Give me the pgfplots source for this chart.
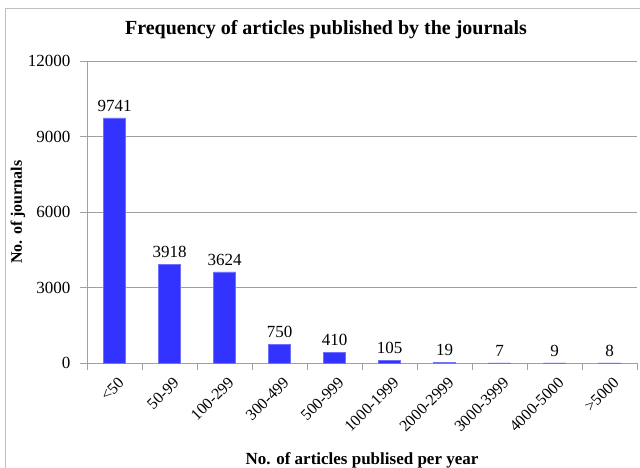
\documentclass[border=0pt]{standalone}
\usepackage{pgfplots}
\pgfplotsset{compat=1.18}
\usepackage{fontspec}
\setmainfont{Liberation Serif}
\definecolor{barblue}{HTML}{3333FF}
\definecolor{gridgray}{HTML}{A0A0A0}
\begin{document}
\begin{tikzpicture}
\useasboundingbox (0pt,0pt) rectangle (640pt,467pt);
\draw[gray!50, line width=0.8pt] (5pt,-20pt) rectangle (660pt,459pt);
\node[font=\bfseries\fontsize{20}{22}\selectfont] at (326pt,437pt) {Frequency of articles published by the journals};
\begin{axis}[
  at={(87pt,104pt)}, anchor=south west,
  scale only axis, width=550pt, height=302pt,
  ymin=0, ymax=12000, ytick={0,3000,6000,9000,12000},
  xmin=-0.5, xmax=9.5,
  xtick={0,...,9},
  xticklabels={<50,50-99,100-299,300-499,500-999,1000-1999,2000-2999,3000-3999,4000-5000,>5000},
  minor xtick={-0.5,0.5,...,9.5},
  major x tick style={draw=none},
  minor tick length=7pt,
  major tick length=7pt,
  tick align=outside,
  x tick style={gridgray},
  y tick style={gridgray},
  ymajorgrids, grid style={gridgray, line width=0.8pt},
  axis x line*=bottom, axis y line*=left,
  axis line style={gridgray, line width=0.8pt, -},
  scaled y ticks=false,
  /pgf/number format/assume math mode=true,
  /pgf/number format/1000 sep={},
  yticklabel style={font=\fontsize{17}{18}\selectfont, xshift=-6pt},
  xticklabel style={font=\fontsize{16}{17}\selectfont, rotate=45, anchor=north east, xshift=1pt, yshift=-3pt},
  ylabel={\textbf{No. of journals}},
  ylabel style={font=\fontsize{16}{17}\selectfont, at={(axis description cs:0,0.5)}, anchor=center, yshift=69pt},
  xlabel={\textbf{No. of articles publised per year}},
  xlabel style={font=\fontsize{17}{18}\selectfont, at={(axis description cs:0.5,0)}, anchor=center, yshift=-97pt},
  ybar, bar width=22pt,
  nodes near coords,
  nodes near coords style={font=\fontsize{17}{18}\selectfont, yshift=3pt},
  clip=false,
]
\addplot[fill=barblue, draw=barblue!70] coordinates {(0,9741) (1,3918) (2,3624) (3,750) (4,410) (5,105) (6,19) (7,7) (8,9) (9,8)};
\end{axis}
\end{tikzpicture}
\end{document}
